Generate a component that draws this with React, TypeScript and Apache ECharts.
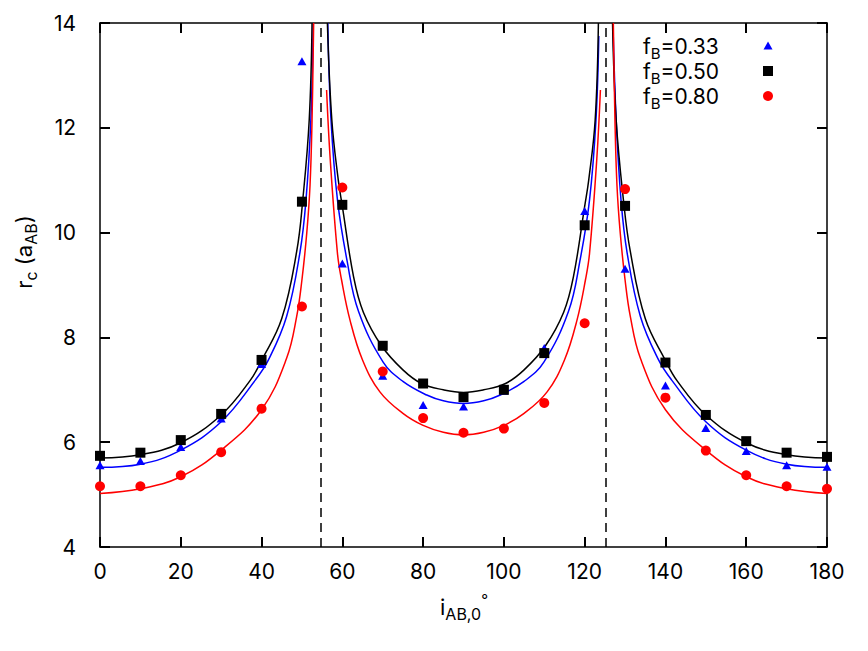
import React, { useEffect, useRef } from 'react';
import * as echarts from 'echarts';

// ---- data ----
const angles = [0, 10, 20, 30, 40, 50, 60, 70, 80, 90, 100, 110, 120, 130, 140, 150, 160, 170, 180];
const rcB033 = [5.56, 5.64, 5.91, 6.45, 7.49, 13.27, 9.41, 7.27, 6.71, 6.68, 6.98, 7.8, 10.41, 9.31, 7.08, 6.27, 5.83, 5.56, 5.53];
const rcB050 = [5.74, 5.8, 6.04, 6.54, 7.57, 10.59, 10.53, 7.84, 7.12, 6.86, 7.0, 7.7, 10.14, 10.51, 7.52, 6.52, 6.02, 5.8, 5.72];
const rcB080 = [5.16, 5.16, 5.37, 5.81, 6.64, 8.59, 10.86, 7.35, 6.46, 6.18, 6.26, 6.75, 8.27, 10.83, 6.85, 5.84, 5.37, 5.16, 5.11];

// fitted curves (three branches each)
const fit033Left = [[0, 5.52], [10, 5.58], [20, 5.85], [30, 6.39], [38.5, 7.19], [41.7, 7.57], [46.2, 8.4], [49.5, 9.62], [51.0, 10.62], [52.2, 12.15], [52.8, 14]];
const fit033Mid = [[56.4, 14], [57.2, 12.15], [58.8, 10.62], [61.2, 9.45], [64.0, 8.5], [70.1, 7.53], [75, 7.16], [80.9, 6.9], [85, 6.79], [90, 6.74], [95, 6.79], [99.1, 6.9], [105, 7.16], [109.9, 7.53], [116, 8.5], [118.8, 9.45], [121.2, 10.62], [122.8, 12.15], [123.5, 13.75]];
const fit033Right = [[127.0, 14], [127.8, 12.15], [129.0, 10.62], [130.5, 9.62], [133.8, 8.4], [138.3, 7.57], [141.5, 7.19], [150, 6.39], [160, 5.85], [170, 5.58], [180, 5.52]];

const fit050Left = [[0, 5.7], [10, 5.76], [20, 5.99], [30, 6.52], [37.1, 7.17], [40, 7.56], [45, 8.36], [48.7, 9.64], [50.2, 10.62], [51.8, 12.15], [52.5, 14]];
const fit050Mid = [[56.3, 14], [57.4, 12.15], [59.0, 11.0], [60, 10.5], [62.8, 9.15], [65.2, 8.48], [69.7, 7.84], [75, 7.38], [79.6, 7.12], [85, 7.0], [90, 6.95], [95, 7.0], [100.4, 7.12], [105, 7.38], [110.3, 7.84], [114.8, 8.48], [117.2, 9.15], [120, 10.5], [121, 11.0], [122.6, 12.15], [123.4, 14]];
const fit050Right = [[126.9, 14], [127.8, 12.15], [129.6, 10.62], [131.3, 9.64], [135, 8.36], [140, 7.56], [142.9, 7.17], [150, 6.52], [160, 5.99], [170, 5.76], [180, 5.7]];

const fit080Left = [[0, 5.02], [10, 5.11], [20, 5.34], [30, 5.85], [40, 6.62], [46.2, 7.6], [48.7, 8.4], [50, 9.1], [51.2, 10.0], [52.0, 10.9], [52.5, 12.15], [52.9, 14]];
const fit080Mid = [[56.1, 12.72], [57.0, 11.4], [58.8, 9.6], [59.8, 9.1], [61.9, 8.33], [65, 7.57], [69.3, 6.96], [75, 6.55], [80, 6.32], [85, 6.19], [90, 6.14], [95, 6.19], [100, 6.32], [105, 6.55], [110.7, 6.96], [115, 7.57], [118.1, 8.33], [120.2, 9.1], [121.2, 9.6], [123, 11.4], [123.9, 12.72]];
const fit080Right = [[127.1, 14], [127.5, 12.15], [128, 10.9], [128.8, 10.0], [130, 9.1], [131.3, 8.4], [133.8, 7.6], [140, 6.62], [150, 5.85], [160, 5.34], [170, 5.11], [180, 5.02]];

const magicAngles = [54.74, 125.26];
const legendLabels = ['0.33', '0.50', '0.80'];

const X_MIN = 0, X_MAX = 180, X_STEP = 20;
const Y_MIN = 4, Y_MAX = 14, Y_STEP = 2;

const BLUE = '#0000ff';
const BLACK = '#000000';
const RED = '#ff0000';
const FONT = 'Inter';

// layout
const GRID = { left: 100, right: 41, top: 23, bottom: 104 };
const W = 868, H = 651;
const TICK_PX = 10;

export default function App() {
  const ref = useRef<HTMLDivElement>(null);
  useEffect(() => {
    const chart = echarts.init(ref.current!, null, { renderer: 'svg' });

    const axisBase = {
      type: 'value' as const,
      axisLine: { show: true, onZero: false, lineStyle: { color: BLACK, width: 1.5 } },
      axisTick: { show: true, inside: true, length: TICK_PX, lineStyle: { color: BLACK, width: 2 } },
      splitLine: { show: false },
      minorTick: { show: false },
    };
    const labelStyle = { color: BLACK, fontSize: 21, fontFamily: FONT };

    const fitLine = (data: number[][], color: string) => ({
      type: 'line',
      data,
      symbol: 'none',
      showSymbol: false,
      smooth: 0.4,
      clip: true,
      silent: true,
      z: 2,
      lineStyle: { color, width: 1.5 },
    });
    const pts = (vals: number[]) => angles.map((a, i) => [a, vals[i]]);

    const m = { fontSize: 21, fontFamily: FONT, lineHeight: 30, verticalAlign: 'middle', fill: BLACK };
    const s = { fontSize: 15, fontFamily: FONT, lineHeight: 10, verticalAlign: 'bottom', fill: BLACK };
    const u = { fontSize: 15, fontFamily: FONT, lineHeight: 14, verticalAlign: 'top', fill: BLACK };
    const richTitle = { m: { ...m, fontSize: 22 }, s: { ...s, fontSize: 16 }, u };

    const legendY = [46, 71, 96];
    const legendX = 768;

    const graphics: any[] = [
      ...legendLabels.map((lab, i) => ({
        type: 'text', x: 643, y: legendY[i],
        style: { text: `{m|f}{s|B}{m|=${lab}}`, rich: { m, s }, align: 'left', verticalAlign: 'middle' },
      })),
      {
        type: 'polygon',
        shape: { points: [[legendX, legendY[0] - 4.5], [legendX + 4.5, legendY[0] + 3.5], [legendX - 4.5, legendY[0] + 3.5]] },
        style: { fill: BLUE },
      },
      { type: 'rect', shape: { x: legendX - 5, y: legendY[1] - 5, width: 10, height: 10 }, style: { fill: BLACK } },
      { type: 'circle', shape: { cx: legendX, cy: legendY[2], r: 5 }, style: { fill: RED } },
      {
        type: 'text', x: 464, y: 607,
        style: { text: '{m|i}{s|AB,0}{u|°}', rich: richTitle, align: 'center', verticalAlign: 'middle' },
      },
      {
        type: 'text', x: 24, y: 252, rotation: Math.PI / 2,
        style: { text: '{m|r}{s|c}{m| (a}{s|AB}{m|)}', rich: richTitle, align: 'center', verticalAlign: 'middle' },
      },
    ];

    const option: any = {
      animation: false,
      backgroundColor: '#ffffff',
      grid: { ...GRID, containLabel: false },
      xAxis: [
        {
          ...axisBase, position: 'bottom', min: X_MIN, max: X_MAX, interval: X_STEP,
          axisLabel: { ...labelStyle, margin: 14 },
        },
        {
          ...axisBase, position: 'top', min: X_MIN, max: X_MAX, interval: X_STEP,
          axisLabel: { show: false },
        },
      ],
      yAxis: [
        {
          ...axisBase, position: 'left', min: Y_MIN, max: Y_MAX, interval: Y_STEP,
          axisLabel: { ...labelStyle, margin: 24 },
        },
        {
          ...axisBase, position: 'right', min: Y_MIN, max: Y_MAX, interval: Y_STEP,
          axisLabel: { show: false },
        },
      ],
      series: [
        fitLine(fit033Left, BLUE), fitLine(fit033Mid, BLUE), fitLine(fit033Right, BLUE),
        fitLine(fit050Left, BLACK), fitLine(fit050Mid, BLACK), fitLine(fit050Right, BLACK),
        fitLine(fit080Left, RED), fitLine(fit080Mid, RED), fitLine(fit080Right, RED),
        {
          type: 'scatter', name: 'fB=0.33', data: pts(rcB033), symbol: 'triangle', symbolSize: [9, 8],
          itemStyle: { color: BLUE, opacity: 1 }, z: 3, silent: true,
        },
        {
          type: 'scatter', name: 'fB=0.80', data: pts(rcB080), symbol: 'circle', symbolSize: 10,
          itemStyle: { color: RED, opacity: 1 }, z: 4, silent: true,
        },
        {
          type: 'scatter', name: 'fB=0.50', data: pts(rcB050), symbol: 'rect', symbolSize: 10,
          itemStyle: { color: BLACK, opacity: 1 }, z: 5, silent: true,
          markLine: {
            silent: true, symbol: ['none', 'none'], label: { show: false },
            lineStyle: { color: BLACK, type: [9, 6], width: 1.5, opacity: 1 },
            data: magicAngles.map((v) => ({ xAxis: v })),
          },
        },
      ],
      graphic: { elements: graphics },
    };

    chart.setOption(option);
    return () => chart.dispose();
  }, []);

  return (
    <div
      ref={ref}
      style={{ position: 'absolute', left: 0, top: 0, width: W, height: H, background: '#ffffff' }}
    />
  );
}
